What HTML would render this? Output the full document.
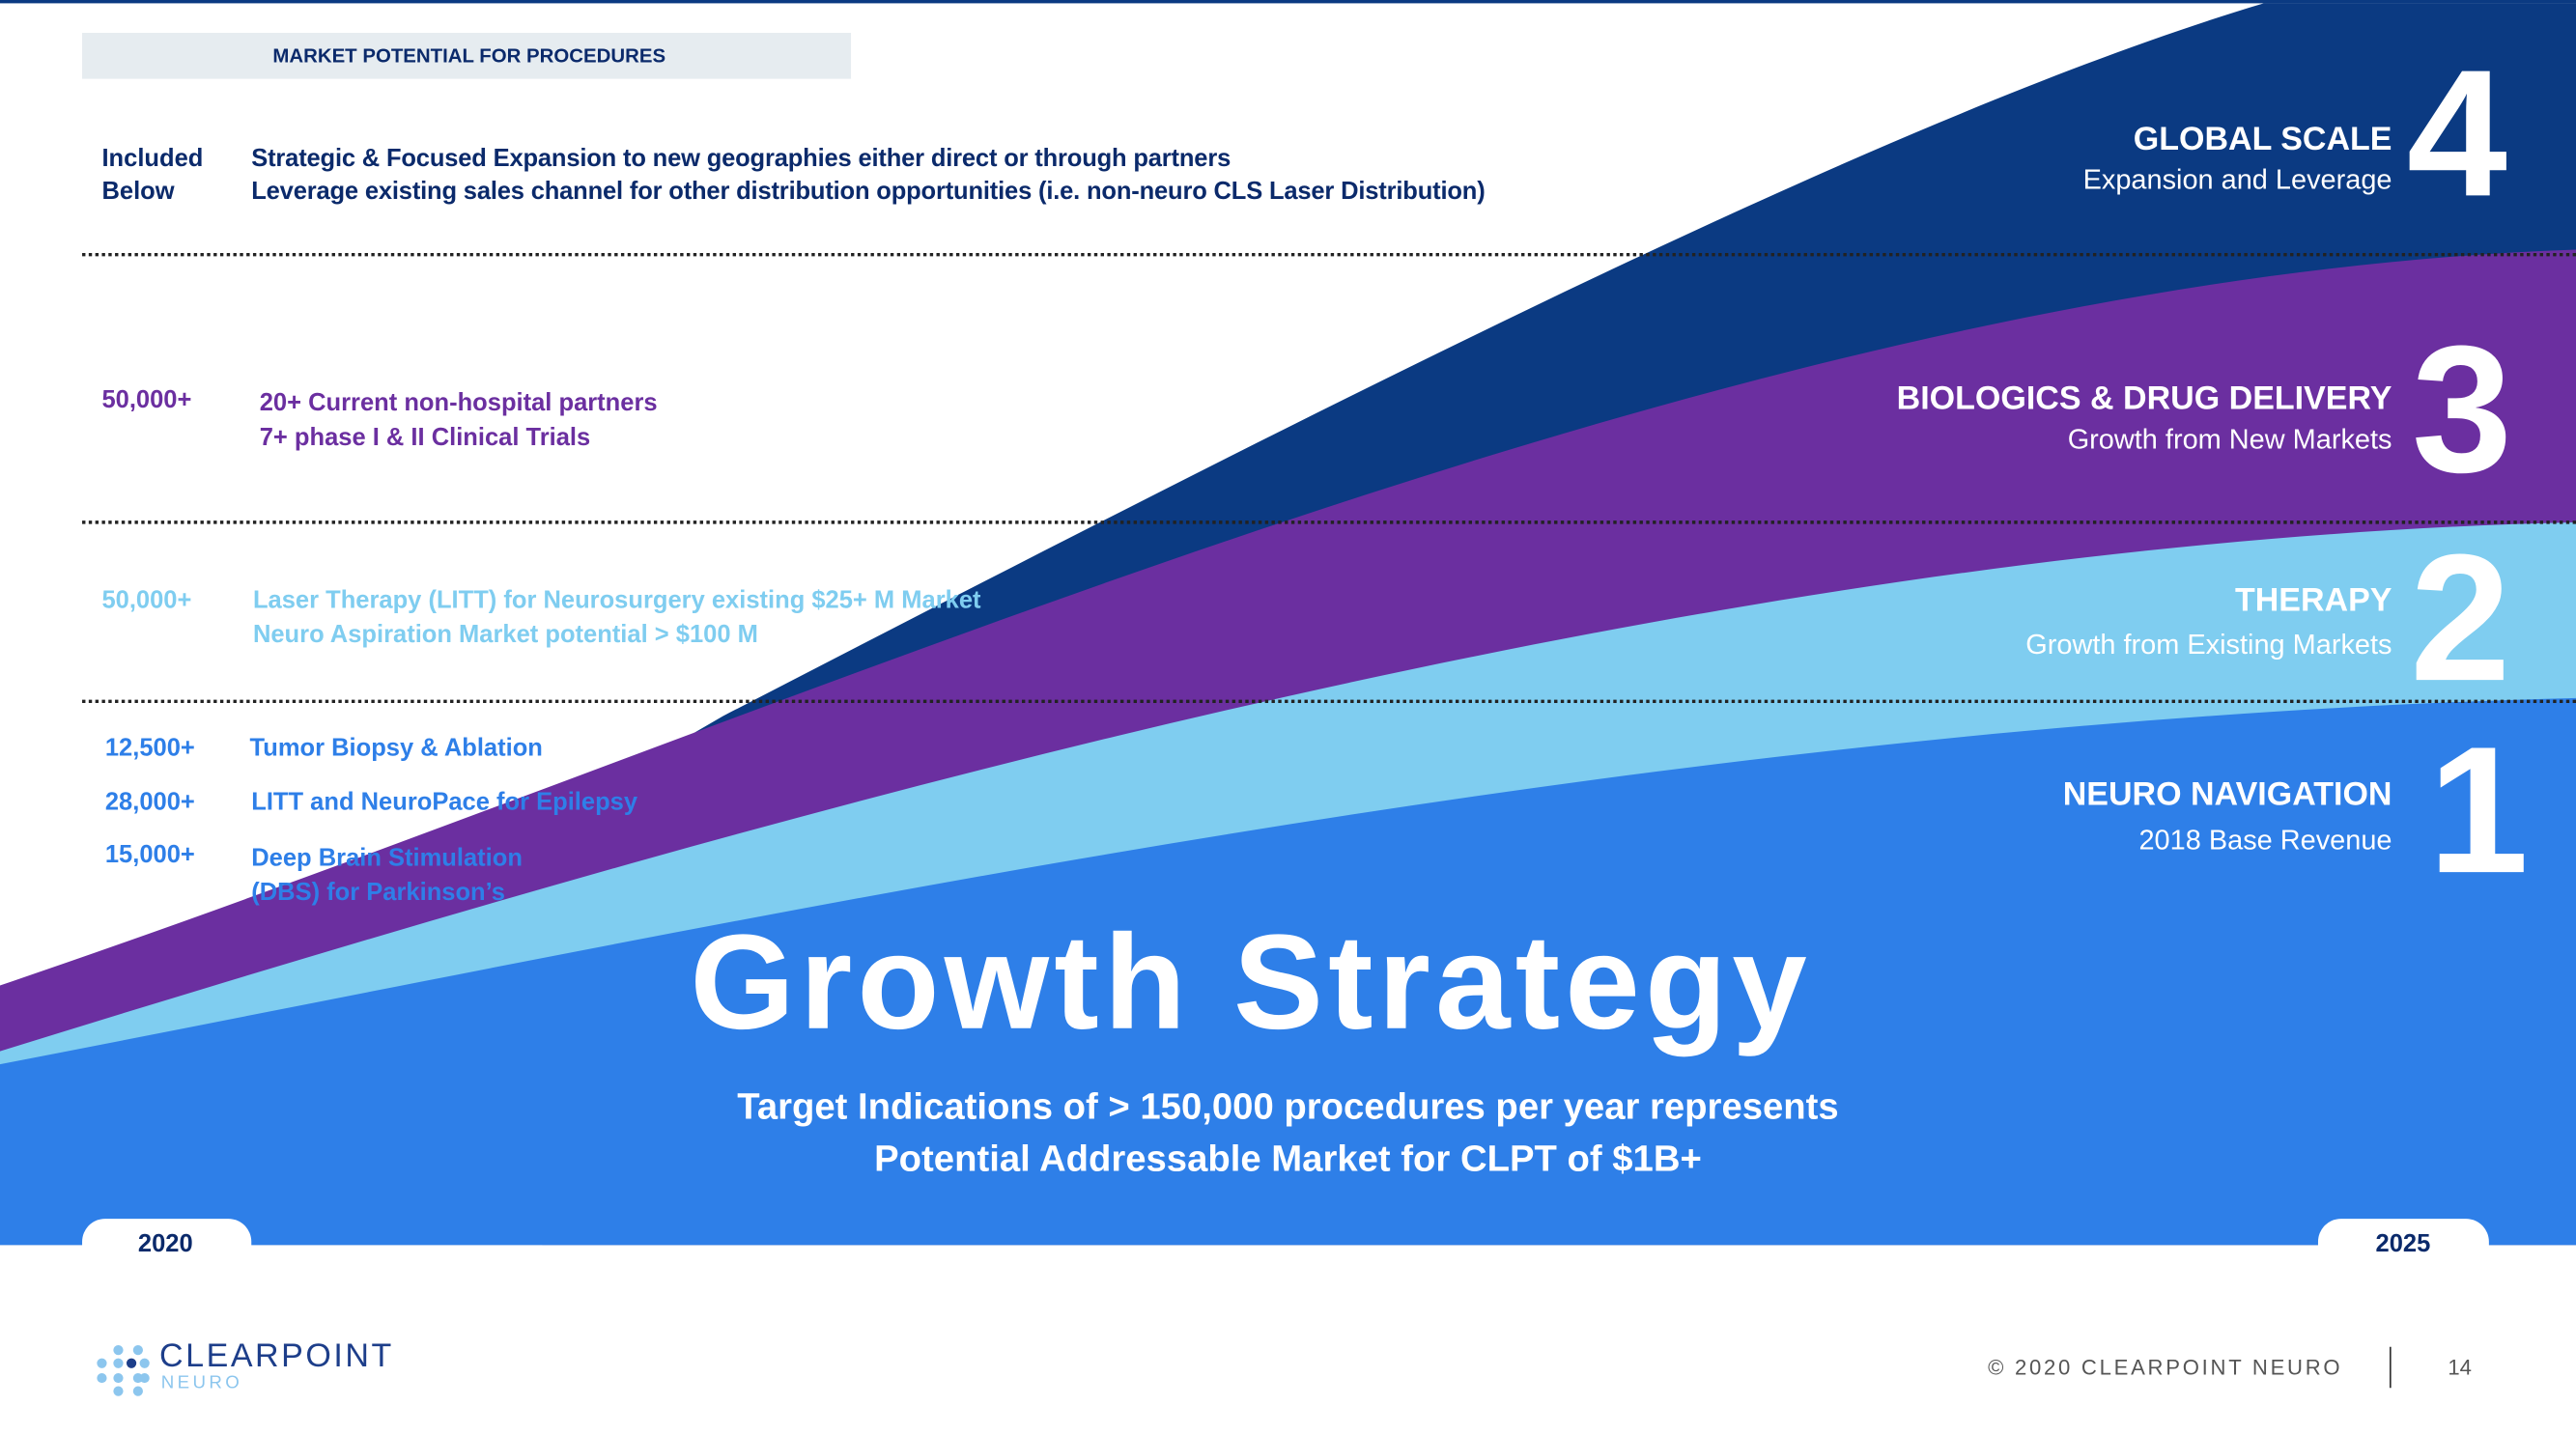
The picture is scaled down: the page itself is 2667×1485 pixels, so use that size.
<!DOCTYPE html>
<html><head><meta charset="utf-8"><style>
html,body{margin:0;padding:0;background:#fff;overflow:hidden;width:2667px;height:1485px}
#w{position:absolute;left:0;top:0;width:1568px;height:873px;transform:scale(1.7009);transform-origin:0 0;font-family:"Liberation Sans",sans-serif}
.t{position:absolute;white-space:nowrap;font-weight:bold}
</style></head><body><div id="w">
<svg width="1568" height="873" style="position:absolute;left:0;top:0">
<rect x="0" y="0" width="1568" height="2" fill="#0b3a82"/>
<path d="M330,500 L440,436 C800,250 1150,70 1378,2 L1568,2 L1568,758 L330,758 Z" fill="#0b3a82"/>
<path d="M0,600 C500,430 1050,170 1568,152 L1568,758 L0,758 Z" fill="#6b2fa0"/>
<path d="M0,640 C500,485 1050,330 1568,318 L1568,758 L0,758 Z" fill="#7fcdf0"/>
<path d="M0,648 C480,555 1000,440 1568,425 L1568,758 L0,758 Z" fill="#2e7fe8"/>
<rect x="50" y="20" width="468" height="28" fill="#e6ecf0"/>
<line x1="50" y1="155" x2="1568" y2="155" stroke="#222" stroke-width="2" stroke-dasharray="2,2"/>
<line x1="50" y1="318" x2="1568" y2="318" stroke="#222" stroke-width="2" stroke-dasharray="2,2"/>
<line x1="50" y1="427" x2="1568" y2="427" stroke="#222" stroke-width="2" stroke-dasharray="2,2"/>
<rect x="50" y="742" width="103" height="30" rx="14" fill="#fff"/>
<rect x="1411" y="742" width="104" height="30" rx="14" fill="#fff"/>
<g fill="#8cc6ee"><circle cx="72" cy="822" r="3"/><circle cx="84" cy="822" r="3"/><circle cx="62" cy="830" r="3"/><circle cx="72" cy="830" r="3"/><circle cx="88" cy="830" r="3"/><circle cx="62" cy="839" r="3"/><circle cx="72" cy="839" r="3"/><circle cx="84" cy="839" r="3"/><circle cx="88" cy="839" r="3"/><circle cx="72" cy="847" r="3"/><circle cx="84" cy="847" r="3"/></g>
<circle cx="80" cy="830" r="3" fill="#1d3e8a"/>
<line x1="1455" y1="820" x2="1455" y2="845" stroke="#333" stroke-width="1"/>
</svg>
<div class="t" style="left:166px;top:27px;font-size:12px;color:#0b2a6b">MARKET POTENTIAL FOR PROCEDURES</div>
<div class="t" style="left:62px;top:87px;font-size:15px;line-height:20px;color:#0b2a6b">Included<br>Below</div>
<div class="t" style="left:153px;top:87px;font-size:15px;line-height:20px;color:#0b2a6b;letter-spacing:-0.1px">Strategic &amp; Focused Expansion to new geographies either direct or through partners<br>Leverage existing sales channel for other distribution opportunities (i.e. non-neuro CLS Laser Distribution)</div>
<div class="t" style="left:62px;top:235px;font-size:15px;color:#6b2fa0">50,000+</div>
<div class="t" style="left:158px;top:235px;font-size:15px;line-height:21px;color:#6b2fa0">20+ Current non-hospital partners<br>7+ phase I &amp; II Clinical Trials</div>
<div class="t" style="left:62px;top:357px;font-size:15px;color:#7fcdf0">50,000+</div>
<div class="t" style="left:154px;top:355px;font-size:15px;line-height:21px;color:#7fcdf0">Laser Therapy (LITT) for Neurosurgery existing $25+ M Market<br>Neuro Aspiration Market potential &gt; $100 M</div>
<div class="t" style="left:64px;top:447px;font-size:15px;color:#2e7fe8">12,500+</div>
<div class="t" style="left:64px;top:480px;font-size:15px;color:#2e7fe8">28,000+</div>
<div class="t" style="left:64px;top:512px;font-size:15px;color:#2e7fe8">15,000+</div>
<div class="t" style="left:152px;top:447px;font-size:15px;color:#2e7fe8">Tumor Biopsy &amp; Ablation</div>
<div class="t" style="left:153px;top:480px;font-size:15px;color:#2e7fe8">LITT and NeuroPace for Epilepsy</div>
<div class="t" style="left:153px;top:512px;font-size:15px;line-height:21px;color:#2e7fe8">Deep Brain Stimulation<br>(DBS) for Parkinson’s</div>
<div class="t" style="right:112px;top:73px;font-size:20px;color:#fff;text-align:right;line-height:24px">GLOBAL SCALE<br><span style="font-weight:normal;font-size:17px">Expansion and Leverage</span></div>
<div class="t" style="left:1465px;top:18px;font-size:110px;color:#fff">4</div>
<div class="t" style="right:112px;top:231px;font-size:20px;color:#fff;text-align:right;line-height:24px">BIOLOGICS &amp; DRUG DELIVERY<br><span style="font-weight:normal;font-size:17px">Growth from New Markets</span></div>
<div class="t" style="left:1468px;top:186px;font-size:110px;color:#fff">3</div>
<div class="t" style="right:112px;top:353px;font-size:20px;color:#fff;text-align:right;line-height:26px">THERAPY<br><span style="font-weight:normal;font-size:17px">Growth from Existing Markets</span></div>
<div class="t" style="left:1467px;top:313px;font-size:110px;color:#fff">2</div>
<div class="t" style="right:112px;top:471px;font-size:20px;color:#fff;text-align:right;line-height:27px">NEURO NAVIGATION<br><span style="font-weight:normal;font-size:17px">2018 Base Revenue</span></div>
<div class="t" style="left:1478px;top:430px;font-size:110px;color:#fff">1</div>
<div class="t" style="left:420px;top:552px;font-size:82px;letter-spacing:3px;color:#fff">Growth Strategy</div>
<div class="t" style="left:0;width:1568px;top:658px;font-size:22.5px;line-height:32px;color:#fff;text-align:center">Target Indications of &gt; 150,000 procedures per year represents<br>Potential Addressable Market for CLPT of $1B+</div>
<div class="t" style="left:84px;top:749px;font-size:15px;color:#0b2a6b">2020</div>
<div class="t" style="left:1446px;top:749px;font-size:15px;color:#0b2a6b">2025</div>
<div class="t" style="left:97px;top:815px;font-size:20px;font-weight:normal;letter-spacing:1.5px;color:#1d3e8a">CLEARPOINT</div>
<div class="t" style="left:98px;top:836px;font-size:11px;font-weight:normal;letter-spacing:2px;color:#8cc6ee">NEURO</div>
<div class="t" style="left:1210px;top:825px;font-size:13px;font-weight:normal;letter-spacing:1.6px;color:#555">© 2020 CLEARPOINT NEURO</div>
<div class="t" style="left:1490px;top:825px;font-size:13px;font-weight:normal;color:#555">14</div>
</div></body></html>
